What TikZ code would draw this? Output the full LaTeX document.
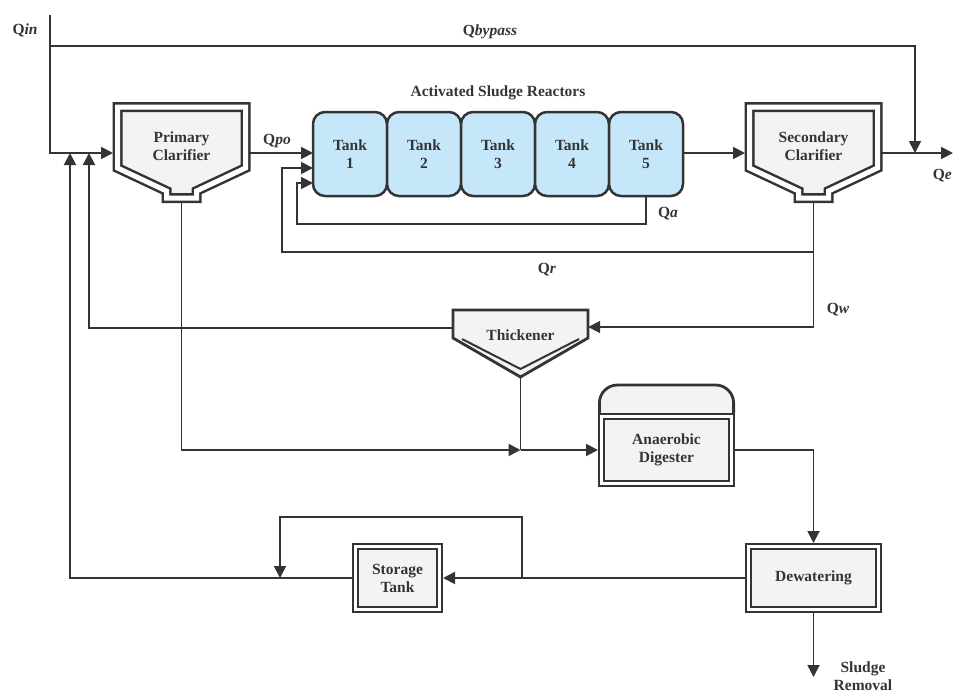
\documentclass[tikz,border=0pt]{standalone}
\usepackage{fontspec}
\setmainfont{Liberation Serif}
\usetikzlibrary{positioning,calc,arrows.meta,backgrounds}
\definecolor{linecolor}{RGB}{52,52,52}
\definecolor{tankcolor}{RGB}{198,230,250}
\definecolor{vesselcolor}{RGB}{242,243,245}

\begin{document}
\begin{tikzpicture}[
    x=1pt, y=-1pt,
    node distance=0pt,
    every node/.style={font=\fontsize{15.5}{18}\selectfont\bfseries, text=linecolor},
    tank/.style={rectangle, rounded corners=12pt, fill=tankcolor, draw=linecolor, line width=2.5pt, minimum width=74pt, minimum height=84pt, align=center, inner sep=0pt, outer sep=0pt},
    vesseltext/.style={align=center, minimum width=137pt, minimum height=86pt, inner sep=0pt, outer sep=0pt},
    unit/.style={rectangle, fill=vesselcolor, draw=linecolor, line width=2pt, double=white, double distance=3pt, align=center, inner sep=0pt, outer sep=3.5pt},
    vessel/.style={fill=vesselcolor, draw=linecolor, line width=2.5pt, double=white, double distance=5pt, line join=miter},
    shell/.style={fill=vesselcolor, draw=linecolor, line width=2.8pt, line join=miter},
    pipe/.style={draw=linecolor, line width=1.9pt},
    arrow/.style={pipe, -{Stealth[inset=0pt, length=12pt, width=12pt]}}
]
\useasboundingbox (0,0) rectangle (953,696);

% Reactors
\node (ASR) at (498,93) {Activated Sludge Reactors};
\node[tank] (T1) at (350,154) {Tank\\1};
\node[tank, right=of T1] (T2) {Tank\\2};
\node[tank, right=of T2] (T3) {Tank\\3};
\node[tank, right=of T3] (T4) {Tank\\4};
\node[tank, right=of T4] (T5) {Tank\\5};

% Clarifiers and thickener
\node[vesseltext] (PC) at (181.5,146) {Primary\\Clarifier};
\node[vesseltext] (SC) at (813.5,146) {Secondary\\Clarifier};
\node[inner sep=0pt, minimum width=135pt, minimum height=50pt] (TK) at (520.5,335) {Thickener};

% Sludge handling
\node[unit, minimum width=130pt, minimum height=67pt] (AD) at (666.5,450) {Anaerobic\\Digester};
\node[unit, minimum width=130pt, minimum height=63pt] (DW) at (813.5,578) {Dewatering};
\node[unit, minimum width=84pt, minimum height=63pt] (ST) at (397.5,578) {Storage\\Tank};

\begin{pgfonlayer}{background}
\foreach \c in {PC,SC}
  \draw[vessel, shift={(\c.center)}] (-64,-39) -- (64,-39) -- (64,22) -- (15,45) -- (15,52) -- (-15,52) -- (-15,45) -- (-64,22) -- cycle;
\draw[shell, shift={(TK.center)}] (-67.5,-25) -- (67.5,-25) -- (67.5,3) -- (0,42) -- (-67.5,3) -- cycle;
\draw[pipe, line width=2pt, shift={(TK.center)}] (-58.5,4) -- (0,34) -- (58.5,4);
\draw[shell, rounded corners=18pt] ($(AD.north west)+(1.4,0)$) -- ++(0,-28) -- ($(AD.north east)+(-1.4,-28)$) -- ($(AD.north east)+(-1.4,0)$);
\end{pgfonlayer}

% Flow labels
\node (Qin) at (25,30) {Q\textit{in}};
\node (Qbypass) at (490,32) {Q\textit{bypass}};
\node (Qpo) at (277,141) {Q\textit{po}};
\node (Qa) at (668,214) {Q\textit{a}};
\node (Qr) at (547,270) {Q\textit{r}};
\node (Qw) at (838,310) {Q\textit{w}};
\node[anchor=east, inner sep=1pt] (Qe) at (953,176) {Q\textit{e}};
\node[align=center, anchor=south, inner sep=1pt] (SR) at (863,692) {Sludge\\Removal};

\coordinate (in) at (50,15);
\coordinate (jb) at (50,46);
\coordinate (out) at (953,153);
\coordinate (PCb) at ($(PC.center)+(0,57)$);
\coordinate (SCb) at ($(SC.center)+(0,57)$);
\coordinate (TKb) at ($(TK.center)+(0,42)$);
\coordinate (jd) at (TKb |- AD.west);
\coordinate (js) at ($(ST.east)+(79,0)$);

% Liquid line
\draw[arrow] (in) |- ($(PC.west)+(0,7)$);
\draw[arrow] (jb) -| ($(SC.east)+(33,7)$);
\draw[arrow] ($(PC.east)+(0,7)$) -- ($(T1.west)+(0,-1)$);
\draw[arrow] ($(T5.east)+(0,-1)$) -- ($(SC.west)+(0,7)$);
\draw[arrow] ($(SC.east)+(0,7)$) -- (out);
\draw[arrow] (T5.south) -- ++(0,28) -| ($(T1.west)+(-16,29)$) -- ($(T1.west)+(0,29)$);
\draw[arrow] (SCb) -- ++(0,49) -| ($(T1.west)+(-31,14)$) -- ($(T1.west)+(0,14)$);

% Sludge line
\draw[arrow] (SCb) |- ($(TK.east)+(0,-8)$);
\draw[arrow] ($(TK.west)+(0,-7)$) -| ($(PC.west)+(-24,7)$);
\draw[arrow] (PCb) |- (jd);
\draw[pipe] (TKb) -- (jd);
\draw[arrow] (jd) -- (AD.west);
\draw[arrow] (AD.east) -| (DW.north);
\draw[arrow] (DW.west) -- (ST.east);
\draw[arrow] (js) -- ++(0,-61) -| ($(ST.west)+(-72,0)$);
\draw[arrow] (ST.west) -| ($(PC.west)+(-43,7)$);
\draw[arrow] (DW.south) -- ++(0,64);

\end{tikzpicture}
\end{document}
